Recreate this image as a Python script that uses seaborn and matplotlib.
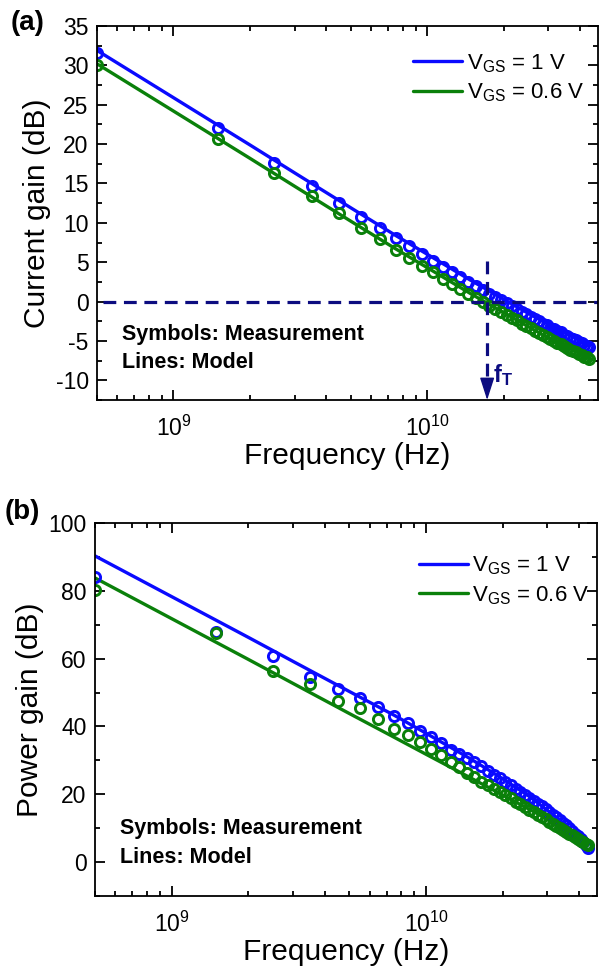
import numpy as np
import pandas as pd
import matplotlib
matplotlib.use('Agg')
import matplotlib.pyplot as plt
import matplotlib.ticker as mticker
import seaborn as sns

sns.set_style('ticks', rc={'axes.edgecolor': 'black', 'text.color': 'black',
                           'axes.labelcolor': 'black', 'xtick.color': 'black',
                           'ytick.color': 'black'})
plt.rcParams['font.family'] = ['Liberation Sans', 'DejaVu Sans']
plt.rcParams['mathtext.fontset'] = 'custom'
plt.rcParams['mathtext.rm'] = 'Liberation Sans'
plt.rcParams['mathtext.it'] = 'Liberation Sans:italic'
plt.rcParams['mathtext.bf'] = 'Liberation Sans:bold'
plt.rcParams['axes.unicode_minus'] = False

# measured frequencies (GHz)
freq_meas = [0.5, 1.5, 2.5, 3.5, 4.5, 5.5, 6.5, 7.5, 8.5, 9.5,
             10.5, 11.5, 12.5, 13.5, 14.5, 15.5, 16.5, 17.5, 18.5, 19.5,
             20.5, 21.5, 22.5, 23.5, 24.5, 25.5, 26.5, 27.5, 28.5, 29.5,
             30.5, 31.5, 32.5, 33.5, 34.5, 35.5, 36.5, 37.5, 38.5, 39.5,
             40.5, 41.5, 42.5, 43.5]
# model curve frequencies (GHz)
freq_model = [0.5, 1, 2, 3, 5, 7.5, 10, 15, 20, 25, 30, 35, 40, 43.5]

# (a) current gain, dB
h21_meas_1v = [31.6, 22.1, 17.6, 14.7, 12.5, 10.8, 9.3, 8.1, 7.0, 6.0,
               5.2, 4.4, 3.7, 3.1, 2.5, 2.0, 1.5, 1.0, 0.6, 0.2,
               -0.2, -0.6, -0.9, -1.3, -1.6, -1.9, -2.2, -2.5, -2.8, -3.0,
               -3.3, -3.5, -3.7, -3.9, -4.2, -4.4, -4.6, -4.8, -4.9, -5.1,
               -5.3, -5.5, -5.6, -5.8]
h21_meas_06v = [30.1, 20.7, 16.3, 13.4, 11.2, 9.4, 8.0, 6.6, 5.5, 4.5,
                3.7, 2.9, 2.2, 1.6, 1.0, 0.5, 0.0, -0.5, -0.9, -1.3,
                -1.7, -2.1, -2.4, -2.8, -3.1, -3.4, -3.7, -4.0, -4.3, -4.5,
                -4.8, -5.0, -5.2, -5.4, -5.7, -5.9, -6.1, -6.3, -6.4, -6.6,
                -6.8, -7.0, -7.1, -7.3]
h21_model_1v = [31.9, 25.9, 19.9, 16.35, 11.9, 8.4, 6.0, 2.6, 0.3, -1.5,
                -2.9, -4.0, -4.9, -5.5]
h21_model_06v = [30.2, 24.2, 18.2, 14.65, 10.2, 6.7, 4.3, 0.9, -1.4, -3.2,
                 -4.6, -5.7, -6.6, -7.3]

# (b) power gain, dB
pg_meas_1v = [84.1, 68.0, 60.9, 54.7, 50.9, 48.5, 45.6, 43.2, 41.0, 38.6,
              36.9, 35.2, 33.2, 31.9, 30.6, 29.4, 28.2, 26.9, 25.8, 24.7,
              23.6, 22.6, 21.6, 20.7, 19.8, 18.9, 18.0, 17.2, 16.4, 15.6,
              14.8, 14.0, 13.2, 12.4, 11.6, 10.8, 10.0, 9.2, 8.4, 7.6,
              6.8, 6.0, 5.1, 4.3]
pg_meas_06v = [80.3, 67.7, 56.5, 52.4, 47.4, 45.3, 42.1, 39.3, 37.5, 35.4,
               33.4, 31.6, 29.5, 27.9, 26.3, 25.0, 23.7, 22.6, 21.6, 20.6,
               19.7, 18.8, 17.8, 17.0, 16.2, 15.4, 14.7, 14.0, 13.3, 12.6,
               11.9, 11.3, 10.7, 10.1, 9.5, 8.9, 8.4, 7.9, 7.3, 6.8,
               6.3, 5.8, 5.3, 4.9]
pg_model_1v = [90.3, 78.3, 66.3, 59.2, 50.3, 43.3, 38.0, 30.4, 24.6, 19.8,
               15.3, 11.2, 6.6, 2.8]
pg_model_06v = [83.8, 71.8, 59.8, 52.7, 43.8, 36.8, 31.8, 24.8, 19.8, 15.9,
                12.7, 9.8, 7.0, 5.2]

f_T = 1.72e10  # Hz

blue = '#0a0aff'
green = '#0a800a'
navy = '#0c0c80'
labels = ['V$_{\\mathrm{GS}}$ = 1 V', 'V$_{\\mathrm{GS}}$ = 0.6 V']

fm = np.array(freq_meas) * 1e9
fl = np.array(freq_model) * 1e9

fig = plt.figure(figsize=(6.02, 9.74), dpi=100)
ax1 = fig.add_axes([97/602, 1-400/974, 501/602, 374/974])
ax2 = fig.add_axes([95/602, 1-896/974, 502/602, 373/974])


def draw_panel(ax, m1, m06, l1, l06):
    h = []
    for y, c, lab in [(l1, blue, labels[0]), (l06, green, labels[1])]:
        sns.lineplot(x=fl, y=y, ax=ax, color=c, lw=2.4, label=lab, legend=False)
        h.append(ax.lines[-1])
    for y, c in [(m1, blue), (m06, green)]:
        sns.lineplot(x=fm, y=y, ax=ax, color=c, linestyle='none', marker='o',
                     markersize=7.3, markerfacecolor='none', markeredgecolor=c,
                     markeredgewidth=2.1, legend=False)
    ax.set_xscale('log')
    ax.set_xlim(5e8, 4.7e10)
    ax.xaxis.set_major_locator(mticker.LogLocator(base=10))
    ax.xaxis.set_minor_locator(mticker.LogLocator(base=10, subs=np.arange(2, 10)))
    ax.xaxis.set_minor_formatter(mticker.NullFormatter())
    ax.tick_params(which='both', direction='in', top=True, right=True,
                   width=1.3, labelsize=16.5)
    ax.tick_params(which='major', length=7)
    ax.tick_params(which='minor', length=3.5)
    ax.tick_params(axis='x', pad=11)
    ax.tick_params(axis='y', pad=6)
    for s in ax.spines.values():
        s.set_linewidth(1.3)
    ax.set_xlabel('Frequency (Hz)', fontsize=21.5, labelpad=1)
    return h


h = draw_panel(ax1, h21_meas_1v, h21_meas_06v, h21_model_1v, h21_model_06v)
ax1.set_ylim(-12.5, 35)
ax1.yaxis.set_major_locator(mticker.MultipleLocator(5))
ax1.yaxis.set_minor_locator(mticker.MultipleLocator(2.5))
ax1.set_ylabel('Current gain (dB)', fontsize=21.5, labelpad=3)
ax1.legend(handles=h, loc='upper right', bbox_to_anchor=(0.972, 0.93),
           frameon=False, fontsize=16, handlelength=2.2, handletextpad=0.2,
           labelspacing=0.3, borderpad=0, borderaxespad=0)
ax1.plot([5.3e8, 4.7e10], [0, 0], color=navy, lw=2.3, dashes=(4, 2.4))
ax1.plot([f_T, f_T], [5.1, -9.9], color=navy, lw=2.3, dashes=(4, 2.4))
ax1.annotate('', xy=(f_T, -12.5), xytext=(f_T, -9.9),
             arrowprops=dict(arrowstyle='-|>,head_length=1.4,head_width=0.45',
                             mutation_scale=10, color=navy, lw=1,
                             shrinkA=0, shrinkB=0))
ax1.text(1.82e10, -9.3, 'f$_{\\mathbf{T}}$', color=navy, fontsize=17,
         fontweight='bold', va='center', ha='left')
ax1.text(0.05, 0.174, 'Symbols: Measurement', transform=ax1.transAxes,
         fontsize=15.5, fontweight='bold', va='center')
ax1.text(0.05, 0.099, 'Lines: Model', transform=ax1.transAxes,
         fontsize=15.5, fontweight='bold', va='center')

h = draw_panel(ax2, pg_meas_1v, pg_meas_06v, pg_model_1v, pg_model_06v)
ax2.set_ylim(-10, 100)
ax2.yaxis.set_major_locator(mticker.MultipleLocator(20))
ax2.yaxis.set_minor_locator(mticker.MultipleLocator(10))
ax2.set_ylabel('Power gain (dB)', fontsize=21.5, labelpad=3)
ax2.legend(handles=h, loc='upper right', bbox_to_anchor=(0.985, 0.915),
           frameon=False, fontsize=16, handlelength=2.2, handletextpad=0.2,
           labelspacing=0.3, borderpad=0, borderaxespad=0)
ax2.text(0.05, 0.18, 'Symbols: Measurement', transform=ax2.transAxes,
         fontsize=15.5, fontweight='bold', va='center')
ax2.text(0.05, 0.102, 'Lines: Model', transform=ax2.transAxes,
         fontsize=15.5, fontweight='bold', va='center')

fig.text(0.018, 0.976, '(a)', fontsize=20, fontweight='bold', va='center')
fig.text(0.008, 0.474, '(b)', fontsize=20, fontweight='bold', va='center')

fig.savefig('out.png', dpi=100)
